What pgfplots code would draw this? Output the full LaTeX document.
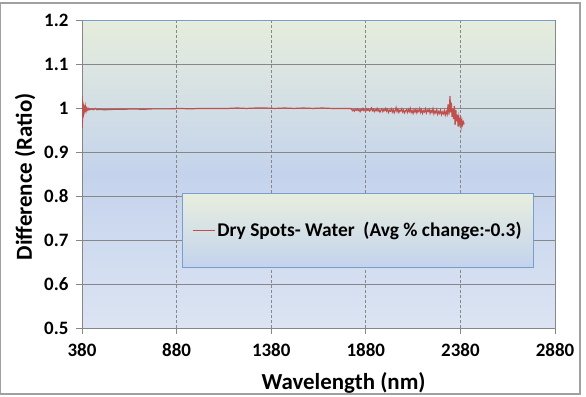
\documentclass[border=0pt]{standalone}
\usepackage{pgfplots}
\pgfplotsset{compat=1.18}
\usepackage{fontspec}
\setmainfont{Carlito}
\definecolor{bgtop}{RGB}{230,237,220}
\definecolor{bgmid}{RGB}{196,211,236}
\definecolor{bgbot}{RGB}{220,228,243}
\definecolor{lgtop}{RGB}{232,238,222}
\definecolor{lgbot}{RGB}{195,211,237}
\definecolor{serred}{RGB}{192,80,77}
\definecolor{gridgray}{RGB}{135,135,135}
\definecolor{axgray}{RGB}{134,134,134}
\definecolor{plotborder}{RGB}{120,158,208}
\definecolor{frame}{RGB}{160,160,160}
\begin{document}
\begin{tikzpicture}
\path[use as bounding box] (0,0) rectangle (586bp,397bp);
\draw[frame, line width=1.2bp] (0.6bp,3bp) rectangle (580bp,394bp);
\begin{axis}[
  at={(82bp,69bp)}, anchor=south west,
  scale only axis, width=473bp, height=308bp,
  xmin=380, xmax=2880, ymin=0.5, ymax=1.2,
  xtick={380,880,1380,1880,2380,2880},
  ytick={0.5,0.6,0.7,0.8,0.9,1,1.1,1.2},
  yticklabels={0.5,0.6,0.7,0.8,0.9,1,1.1,1.2},
  xticklabels={380,880,1380,1880,2380,2880},
  /pgf/number format/assume math mode=true,
  tick label style={font=\fontsize{19}{22}\selectfont\bfseries, text=black},
  yticklabel style={xshift=-4bp},
  xticklabel style={yshift=-6bp},
  tick align=outside, xtick pos=lower, ytick pos=left,
  major tick length=6bp,
  tick style={axgray, line width=0.8bp},
  axis line style={axgray, line width=0.8bp},
  axis background/.style={top color=bgtop, bottom color=bgbot, middle color=bgmid},
  xmajorgrids, ymajorgrids,
  x grid style={gridgray, dash pattern=on 3bp off 2bp, line width=0.7bp},
  y grid style={gridgray, line width=0.7bp},
  xlabel={Wavelength (nm)},
  ylabel={Difference (Ratio)},
  label style={font=\fontsize{23}{27}\selectfont\bfseries},
  xlabel style={at={(axis description cs:0.553,-0.177)}, anchor=center},
  ylabel style={at={(axis description cs:-0.1205,0.49)}, anchor=center},
  legend style={at={(axis description cs:0.211,0.195)}, anchor=south west,
    draw=plotborder, line width=1bp, top color=lgtop, bottom color=lgbot,
    inner xsep=10bp, inner ysep=27bp,
    font=\fontsize{19.5}{22}\selectfont\bfseries},
  legend image code/.code={\draw[serred, line width=1.2bp] (0bp,0bp) -- (22bp,0bp);},
  clip=true,
]
\addplot[serred, line width=1.2bp] coordinates {
(380,0.960) (380.5,1.027) (381,0.955) (382,1.020) (383,0.968) (384,1.015)
(386,0.978) (388,1.010) (390,0.985) (392,1.006) (395,0.990) (398,1.003)
(402,0.993) (406,1.000) (411,0.995) (416,0.999) (422,0.996) (430,0.998)
(440,0.996) (450,0.999) (460,0.996) (470,0.997) (500,0.996) (550,0.997)
(600,0.997) (650,0.998) (700,0.997) (750,0.998) (800,0.998) (850,0.998)
(900,0.999) (950,0.998) (1000,0.999) (1050,0.999) (1100,0.999) (1150,0.999)
(1200,1.000) (1250,0.999) (1300,1.000) (1350,1.000) (1400,0.999) (1450,1.000)
(1500,0.999) (1550,1.000) (1600,0.999) (1650,1.000) (1700,0.999) (1750,0.999)
(1800,0.999) (1805,0.997) (1810,0.994) (1815,0.996) (1820,0.993) (1825,0.997)
(1830,0.995) (1835,0.998) (1840,0.994) (1845,0.996) (1850,0.992) (1855,0.997)
(1860,0.995) (1865,0.999) (1870,0.994) (1875,0.996) (1880,0.993) (1885,0.998)
(1890,0.995) (1895,0.997) (1900,0.993) (1905,0.996) (1910,1.000) (1915,0.994)
(1920,0.997) (1925,0.992) (1930,0.996) (1935,0.994) (1940,0.999) (1945,0.993)
(1950,0.996) (1955,0.991) (1960,0.995) (1965,0.998) (1970,0.992) (1975,0.996)
(1980,0.994) (1985,0.999) (1990,0.993) (1995,0.997) (2000,0.990) (2005,0.995)
(2010,0.993) (2015,0.998) (2020,0.991) (2025,0.996) (2030,0.989) (2035,0.994)
(2040,1.001) (2045,0.992) (2050,0.997) (2055,0.990) (2060,0.995) (2065,0.993)
(2070,0.998) (2075,0.991) (2080,0.995) (2085,0.989) (2090,0.994) (2095,0.996)
(2100,0.990) (2105,0.997) (2110,0.992) (2115,0.999) (2120,0.990) (2125,0.994)
(2130,0.988) (2135,0.996) (2140,0.991) (2145,0.997) (2150,0.989) (2155,0.995)
(2160,0.992) (2165,0.999) (2170,0.990) (2175,0.996) (2180,0.988) (2185,0.994)
(2190,0.991) (2195,0.998) (2200,0.989) (2205,0.995) (2210,0.992) (2215,0.997)
(2220,0.988) (2225,0.994) (2230,0.990) (2235,0.998) (2240,0.987) (2245,0.993)
(2250,0.989) (2255,0.996) (2260,0.986) (2265,0.992) (2270,0.988) (2275,0.995)
(2280,0.985) (2285,0.991) (2290,0.987) (2295,0.994) (2300,0.984) (2305,0.992)
(2310,0.986) (2315,1.008) (2320,0.985) (2325,1.027) (2328,0.990) (2332,1.012)
(2336,0.980) (2340,0.998) (2344,0.975) (2348,1.005) (2352,0.962) (2356,0.995)
(2360,0.970) (2364,0.985) (2368,0.958) (2372,0.978) (2376,0.965) (2380,0.975)
(2384,0.958) (2388,0.972) (2392,0.962) (2396,0.968) (2400,0.963)
};
\addlegendentry{Dry Spots- Water\ \ (Avg \% change:-0.3)}
\draw[plotborder, line width=1bp] (rel axis cs:0,1) -- (rel axis cs:1,1) -- (rel axis cs:1,0);
\end{axis}
\end{tikzpicture}
\end{document}
